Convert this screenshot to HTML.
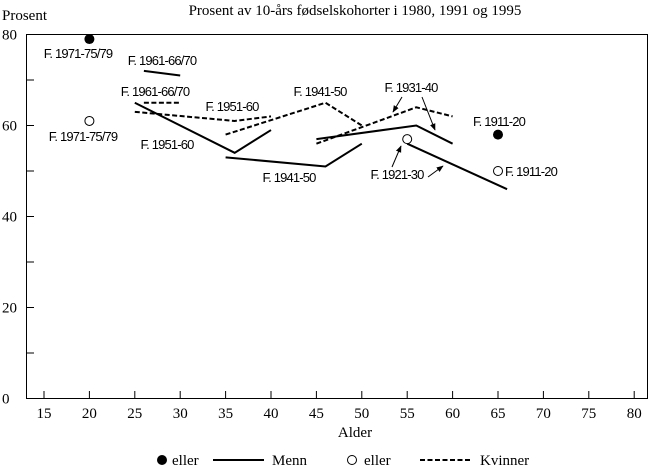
<!DOCTYPE html>
<html><head><meta charset="utf-8"><style>
html,body{margin:0;padding:0;background:#fff;}
svg{display:block;}
.lab{font-family:"Liberation Sans",sans-serif;font-size:13px;letter-spacing:-0.85px;fill:#000;}
.ser{font-family:"Liberation Serif",serif;font-size:15px;fill:#000;}
</style></head><body>
<svg id="chart" width="650" height="468" viewBox="0 0 650 468" xmlns="http://www.w3.org/2000/svg">
<defs><marker id="ah" viewBox="0 0 10 10" refX="9" refY="5" markerWidth="7" markerHeight="7" orient="auto"><path d="M0,1 L10,5 L0,9 z" fill="#000"/></marker></defs>
<text class="ser" x="355" y="15" text-anchor="middle">Prosent av 10-års fødselskohorter i 1980, 1991 og 1995</text>
<text class="ser" x="2" y="20">Prosent</text>
<rect x="26.5" y="34.5" width="621" height="364" fill="none" stroke="#000" stroke-width="1"/>
<g id="axes"></g>
<g id="series"></g>
<g id="annot"></g>
<text class="ser" x="355" y="437" text-anchor="middle">Alder</text>
<g>
<circle cx="162" cy="460" r="5" fill="#000"/>
<text class="ser" x="172" y="465">eller</text>
<line x1="213" y1="460" x2="264" y2="460" stroke="#000" stroke-width="2"/>
<text class="ser" x="272" y="465">Menn</text>
<circle cx="352" cy="460" r="4.5" fill="#fff" stroke="#000" stroke-width="1"/>
<text class="ser" x="364" y="465">eller</text>
<line x1="420" y1="460" x2="472" y2="460" stroke="#000" stroke-width="2" stroke-dasharray="5,2.5"/>
<text class="ser" x="480" y="465">Kvinner</text>
</g>
</svg>
<script>
const xTicks = [15,20,25,30,35,40,45,50,55,60,65,70,75,80];
const yTicks = [0,20,40,60,80];
const yMinor = [10,30,50,70];
const menAges = [[26,30],[25,36,40],[35,46,50],[45,56,60],[55,66]];
const menVals = [[72,71],[65,54,59],[53,51,56],[57,60,56],[56,46]];
const womenAges = [[26,30],[25,36,40],[35,46,50],[45,56,60]];
const womenVals = [[65,65],[63,61,62],[58,65,60],[56,64,62]];
const menPoints = [[20,79],[65,58]];
const womenPoints = [[20,61],[65,50],[55,57]];
const NS = "http://www.w3.org/2000/svg";
function X(a){return 44 + (a-15)*9.08;}
function Y(v){return 398.5 - v*4.55;}
function mk(tag, attrs, parent){const e=document.createElementNS(NS,tag);for(const k in attrs)e.setAttribute(k,attrs[k]);parent.appendChild(e);return e;}
const axes=document.getElementById('axes');
xTicks.forEach(t=>{
  const l=mk('line',{x1:X(t),x2:X(t),y1:398.5,y2:391,stroke:'#000','stroke-width':1},axes);
  
  
  const tx=mk('text',{x:X(t),y:418,'text-anchor':'middle',class:'ser'},axes);tx.textContent=t;
  
  
});
yTicks.concat(yMinor).forEach(t=>{
  const l=mk('line',{x1:26.5,x2:34,y1:Y(t),y2:Y(t),stroke:'#000','stroke-width':1},axes);
  
  
});
yTicks.forEach(t=>{
  const tx=mk('text',{x:2,y:Y(t)+5,class:'ser'},axes);tx.textContent=t;
  
  
});
const ser=document.getElementById('series');
menAges.forEach((ag,i)=>{
  const p=mk('polyline',{points:ag.map((a,j)=>X(a)+','+Y(menVals[i][j])).join(' '),fill:'none',stroke:'#000','stroke-width':2},ser);
  
  
});
womenAges.forEach((ag,i)=>{
  const p=mk('polyline',{points:ag.map((a,j)=>X(a)+','+Y(womenVals[i][j])).join(' '),fill:'none',stroke:'#000','stroke-width':2,'stroke-dasharray':'5,2.5'},ser);
  
  
});
menPoints.forEach(p=>{
  const c=mk('circle',{cx:X(p[0]),cy:Y(p[1]),r:5,fill:'#000'},ser);
  
  
});
womenPoints.forEach(p=>{
  const c=mk('circle',{cx:X(p[0]),cy:Y(p[1]),r:4.5,fill:'#fff',stroke:'#000','stroke-width':1},ser);
  
  
});
const an=document.getElementById('annot');
const labels=[["F. 1971-75/79",78,58,'middle'],["F. 1961-66/70",162,65,'middle'],["F. 1961-66/70",155,96,'middle'],["F. 1951-60",232,111,'middle'],["F. 1971-75/79",83,141,'middle'],["F. 1951-60",167,149,'middle'],["F. 1941-50",289,182,'middle'],["F. 1941-50",320,96,'middle'],["F. 1931-40",411,92,'middle'],["F. 1911-20",499,126,'middle'],["F. 1911-20",505,176,'start'],["F. 1921-30",397,179,'middle']];
labels.forEach(l=>{
  const t=mk('text',{x:l[1],y:l[2],'text-anchor':l[3],class:'lab'},an);t.textContent=l[0];
  
  
});
[[402,97,393,112],[422,97,435,130],[392,167,401,146],[428,177,443,166]].forEach(a=>{
  const l=mk('line',{x1:a[0],y1:a[1],x2:a[2],y2:a[3],stroke:'#000','stroke-width':1,'marker-end':'url(#ah)'},an);
  
  
});
</script>
</body></html>
